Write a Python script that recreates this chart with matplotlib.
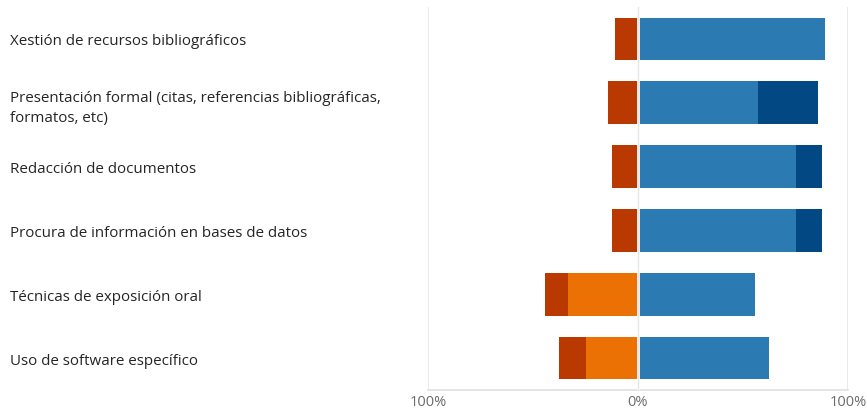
import numpy as np
import matplotlib.pyplot as plt

plt.rcParams['font.family'] = ['Open Sans', 'DejaVu Sans']

categories = [
    "Xestión de recursos bibliográficos",
    "Presentación formal (citas, referencias bibliográficas,\nformatos, etc)",
    "Redacción de documentos",
    "Procura de información en bases de datos",
    "Técnicas de exposición oral",
    "Uso de software específico",
]

# percentages, top row first
strongly_disagree = [11.1, 14.3, 12.5, 12.5, 11.1, 12.5]
disagree = [0.0, 0.0, 0.0, 0.0, 33.3, 25.0]
agree = [88.9, 57.1, 75.0, 75.0, 55.6, 62.5]
strongly_agree = [0.0, 28.6, 12.5, 12.5, 0.0, 0.0]

tick_values = [-100, 0, 100]
tick_labels = ["100%", "0%", "100%"]

c_dark_red = '#BA3901'
c_orange = '#EC7104'
c_blue = '#2B7AB1'
c_dark_blue = '#024983'


def main():
    fig = plt.figure(figsize=(8.67, 4.14), dpi=100)
    ax = fig.add_axes([428 / 867, 23 / 414, 420 / 867, 383 / 414])

    y = np.arange(len(categories))
    h = 0.67
    dis = np.array(disagree)
    sdis = np.array(strongly_disagree)
    agr = np.array(agree)
    sagr = np.array(strongly_agree)

    ax.barh(y, -dis, height=h, color=c_orange, linewidth=0, zorder=3)
    ax.barh(y, -sdis, left=-dis, height=h, color=c_dark_red, linewidth=0, zorder=3)
    ax.barh(y, agr, height=h, color=c_blue, linewidth=0, zorder=3)
    ax.barh(y, sagr, left=agr, height=h, color=c_dark_blue, linewidth=0, zorder=3)

    # thin gap at zero, with the grid line showing through
    ax.axvline(0, color='white', linewidth=2.0, zorder=4)
    ax.axvline(0, color='#e6e6e6', linewidth=0.9, zorder=5)

    ax.set_xlim(-100, 100)
    ax.set_ylim(len(categories) - 0.5, -0.5)

    ax.set_xticks(tick_values)
    ax.set_xticklabels(tick_labels, fontsize=10.5, color='#6b6b6b')
    ax.tick_params(axis='x', length=0, pad=3)
    ax.grid(axis='x', color='#e6e6e6', linewidth=1.2, zorder=0)

    ax.set_yticks(y)
    ax.set_yticklabels(categories, fontsize=10.9, color='#252525', linespacing=1.5)
    ax.tick_params(axis='y', length=0, pad=301)
    for lab in ax.get_yticklabels():
        lab.set_horizontalalignment('left')

    for s in ['top', 'right', 'left']:
        ax.spines[s].set_visible(False)
    ax.spines['bottom'].set_color('#e0e0e0')
    ax.spines['bottom'].set_linewidth(1.2)

    fig.savefig('out.png', dpi=100)


main()
